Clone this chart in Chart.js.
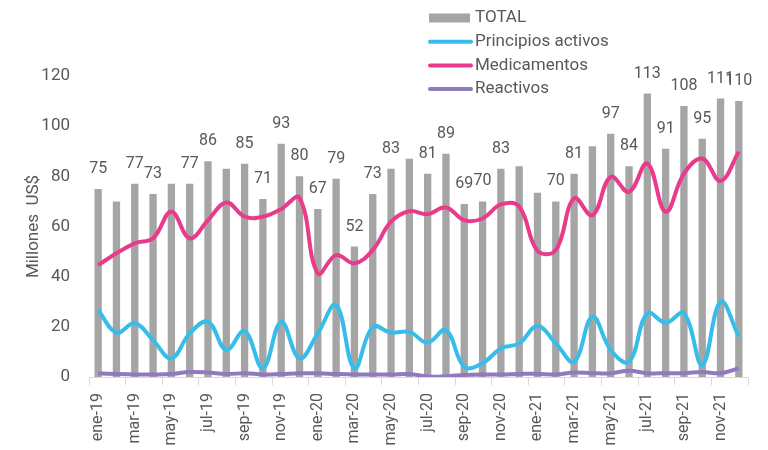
<!DOCTYPE html>
<html>
<head>
<meta charset="utf-8">
<script src="https://cdn.jsdelivr.net/npm/chart.js@4.4.0/dist/chart.umd.min.js"></script>
<style>
  body { margin: 0; background: #fff; }
</style>
</head>
<body>
<canvas id="grafico" width="768" height="450"></canvas>
<script>
// meses
const meses = [
    'ene-19', 'feb-19', 'mar-19', 'abr-19', 'may-19', 'jun-19', 'jul-19', 'ago-19', 'sep-19', 'oct-19', 'nov-19', 'dic-19',
    'ene-20', 'feb-20', 'mar-20', 'abr-20', 'may-20', 'jun-20', 'jul-20', 'ago-20', 'sep-20', 'oct-20', 'nov-20', 'dic-20',
    'ene-21', 'feb-21', 'mar-21', 'abr-21', 'may-21', 'jun-21', 'jul-21', 'ago-21', 'sep-21', 'oct-21', 'nov-21', 'dic-21'
];

// TOTAL (barras)
const total = [
    75, 70, 77, 73, 77, 77, 86, 83, 85, 71, 93, 80,
    67, 79, 52, 73, 83, 87, 81, 89, 69, 70, 83, 84,
    73.5, 70, 81, 92, 97, 84, 113, 91, 108, 95, 111, 110
];

// etiquetas sobre las barras (null = sin etiqueta)
const etiquetasTotal = [
    75, null, 77, 73, null, 77, 86, null, 85, 71, 93, 80,
    67, 79, 52, 73, 83, null, 81, 89, 69, 70, 83, null,
    null, 70, 81, null, 97, 84, 113, 91, 108, 95, 111, 110
];

// Principios activos
const principiosActivos = [
    26.7, 17.7, 21.4, 14.7, 7.4, 17.4, 22, 10.8, 18.3, 3.5, 22, 7.4,
    17.4, 28.7, 3.5, 20, 17.7, 18, 13.7, 18.7, 4.1, 5.5, 11.4, 13.4,
    20.3, 13.4, 6.1, 24, 10.8, 6.1, 25.4, 21.6, 25.4, 4.8, 30, 16.1
];

// Medicamentos
const medicamentos = [
    44.6, 49.3, 53.3, 55.3, 65.9, 55.3, 62.5, 69.6, 63.9, 63.9, 67, 71.4,
    41.3, 48.6, 45.3, 50.6, 61.9, 66.1, 64.9, 67.6, 62.5, 63.2, 68.8, 68,
    50.3, 50.6, 71.2, 64.5, 79.8, 73.8, 85.1, 65.9, 81.1, 87.1, 78.2, 89.8
];

// Reactivos
const reactivos = [
    1.5, 1.2, 1, 1, 1.2, 2, 1.8, 1.2, 1.5, 1, 1.2, 1.5,
    1.5, 1.2, 1, 1, 1, 1.2, 0.2, 0.3, 0.8, 1, 1, 1.2,
    1.3, 1, 1.8, 1.5, 1.5, 2.5, 1.5, 1.5, 1.5, 2, 1.5, 3.5
];

const gris = '#595959';
const fuente = 'Roboto, "Liberation Sans", sans-serif';

function linea(label, data, color) {
    return {
        type: 'line',
        label: label,
        data: data,
        borderColor: color,
        backgroundColor: color,
        borderWidth: 4,
        tension: 0.4,
        pointRadius: 0,
        fill: false,
        order: 0
    };
}

// etiquetas de valores sobre las barras
const etiquetasPlugin = {
    id: 'etiquetas',
    afterDatasetsDraw(chart) {
        const ctx = chart.ctx;
        const meta = chart.getDatasetMeta(0);
        ctx.save();
        ctx.font = '16px ' + fuente;
        ctx.fillStyle = gris;
        ctx.textAlign = 'center';
        ctx.textBaseline = 'middle';
        meta.data.forEach((bar, i) => {
            if (etiquetasTotal[i] !== null) {
                ctx.fillText(String(etiquetasTotal[i]), bar.x, bar.y - 20);
            }
        });
        ctx.restore();
    }
};

// leyenda vertical arriba
const leyendaPlugin = {
    id: 'leyenda',
    afterDraw(chart) {
        const ctx = chart.ctx;
        const x0 = 429, y0 = 18, paso = 23.7;
        ctx.save();
        ctx.font = '17px ' + fuente;
        ctx.textBaseline = 'middle';
        chart.data.datasets.forEach((ds, i) => {
            const y = y0 + i * paso;
            if (ds.type === 'line') {
                ctx.strokeStyle = ds.borderColor;
                ctx.lineWidth = 4;
                ctx.lineCap = 'round';
                ctx.beginPath();
                ctx.moveTo(x0 + 1, y);
                ctx.lineTo(x0 + 42, y);
                ctx.stroke();
            } else {
                ctx.fillStyle = ds.backgroundColor;
                ctx.fillRect(x0, y - 4.5, 41, 9);
            }
            ctx.fillStyle = gris;
            ctx.fillText(ds.label, x0 + 46, y);
        });
        ctx.restore();
    }
};

const grafico = new Chart(document.getElementById('grafico'), {
    data: {
        labels: meses,
        datasets: [
            {
                type: 'bar',
                label: 'TOTAL',
                data: total,
                backgroundColor: '#a5a5a5',
                barPercentage: 0.4,
                categoryPercentage: 1,
                order: 1
            },
            linea('Principios activos', principiosActivos, '#37bde9'),
            linea('Medicamentos', medicamentos, '#ea3a8c'),
            linea('Reactivos', reactivos, '#8f7ac0')
        ]
    },
    options: {
        responsive: false,
        animation: false,
        layout: {
            padding: { top: 76, right: 20, bottom: 0, left: 0 }
        },
        plugins: {
            legend: { display: false },
            tooltip: { enabled: false }
        },
        scales: {
            x: {
                offset: true,
                grid: {
                    offset: true,
                    drawOnChartArea: false,
                    drawTicks: true,
                    tickLength: 8,
                    color: ctx => (ctx.index === undefined || ctx.index % 2 === 0) ? '#d9d9d9' : 'rgba(0,0,0,0)'
                },
                border: { color: '#d9d9d9' },
                ticks: {
                    autoSkip: false,
                    maxRotation: 90,
                    minRotation: 90,
                    padding: 8,
                    color: gris,
                    font: { family: fuente, size: 16 },
                    callback: (val, i) => i % 2 === 0 ? meses[i] : ''
                },
                afterFit: scale => { scale.height = 73; }
            },
            y: {
                min: 0,
                max: 120,
                ticks: {
                    stepSize: 20,
                    padding: 19,
                    color: gris,
                    font: { family: fuente, size: 17 }
                },
                grid: { display: false, drawTicks: false },
                border: { display: false },
                title: {
                    display: true,
                    text: 'Millones  US$',
                    color: gris,
                    font: { family: fuente, size: 17 },
                    padding: { top: 24, bottom: 0 }
                },
                afterFit: scale => { scale.width = 89; }
            }
        }
    },
    plugins: [etiquetasPlugin, leyendaPlugin]
});
</script>
</body>
</html>
